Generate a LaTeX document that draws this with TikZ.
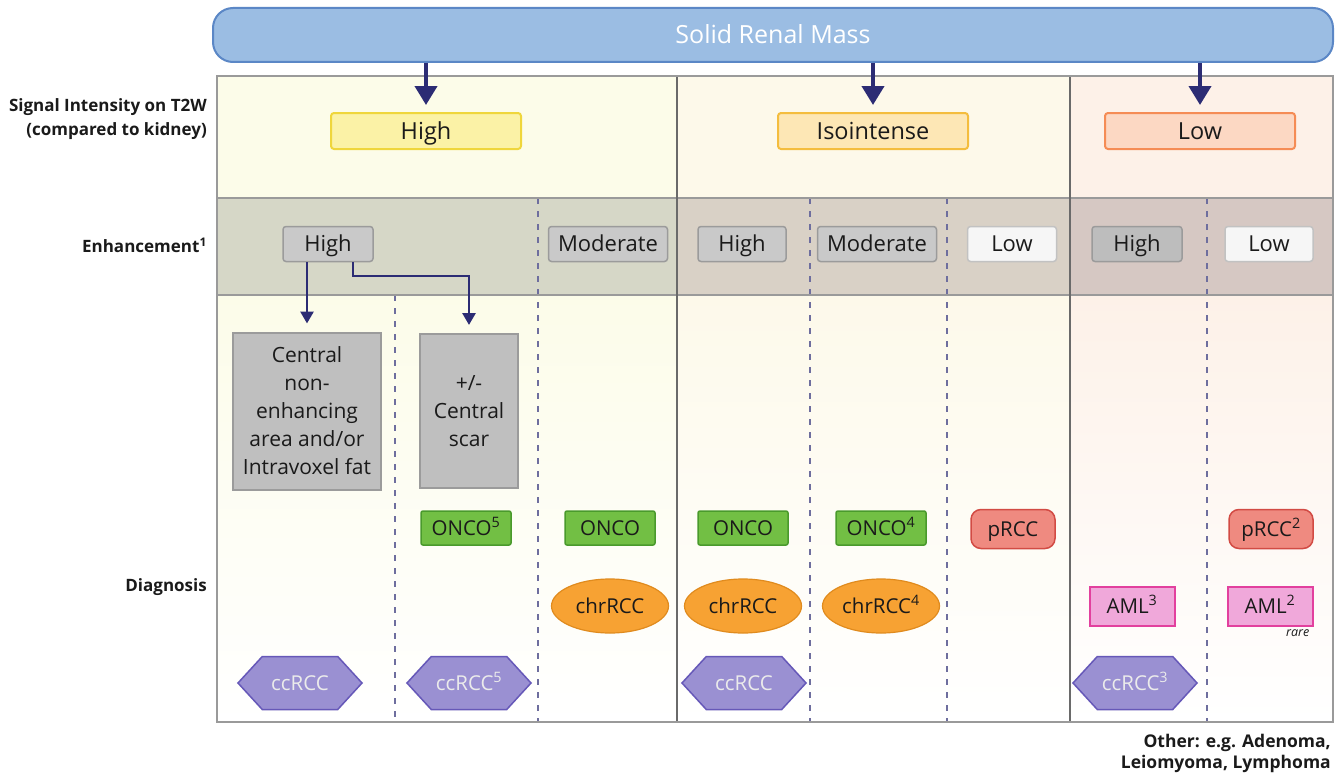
\documentclass[tikz,border=0pt]{standalone}
\usepackage{fontspec}
\setmainfont{Open Sans}
\usetikzlibrary{shapes.geometric,shapes.symbols,arrows.meta,positioning}

\definecolor{navy}{HTML}{2C2C74}
\definecolor{bannerfill}{HTML}{9BBDE3}
\definecolor{bannerdraw}{HTML}{5B87C6}
\definecolor{tablegrey}{HTML}{9A9A9A}
\definecolor{coldark}{HTML}{6A6A6A}
\definecolor{dashblue}{HTML}{6E6E9E}
\definecolor{topA}{HTML}{FCFCE9}
\definecolor{topB}{HTML}{FDF9EA}
\definecolor{topC}{HTML}{FDF1E8}
\definecolor{bandA}{HTML}{D6D7C7}
\definecolor{bandB}{HTML}{D9D1C6}
\definecolor{bandC}{HTML}{D6C8C3}
\definecolor{hiYfill}{HTML}{FBF2A6}
\definecolor{hiYdraw}{HTML}{EFD63C}
\definecolor{isofill}{HTML}{FDE7B5}
\definecolor{isodraw}{HTML}{F4BD3E}
\definecolor{lowfill}{HTML}{FCD8C3}
\definecolor{lowdraw}{HTML}{F58C55}
\definecolor{greyfill}{HTML}{C9C9C9}
\definecolor{greydark}{HTML}{BDBDBD}
\definecolor{greydraw}{HTML}{9B9B9B}
\definecolor{whitefill}{HTML}{F6F6F6}
\definecolor{whitedraw}{HTML}{C2C2C2}
\definecolor{oncofill}{HTML}{72BF44}
\definecolor{oncodraw}{HTML}{4A9A2C}
\definecolor{prccfill}{HTML}{EF8A80}
\definecolor{prccdraw}{HTML}{D24B44}
\definecolor{chrfill}{HTML}{F7A233}
\definecolor{chrdraw}{HTML}{E08B1E}
\definecolor{amlfill}{HTML}{F0A8DA}
\definecolor{amldraw}{HTML}{E2409E}
\definecolor{ccfill}{HTML}{9A90D2}
\definecolor{ccdraw}{HTML}{6658B8}
\definecolor{inktext}{HTML}{1A1A1A}

\tikzset{
  bigarr/.style={draw=navy, line width=4pt, -{Triangle[width=22pt,length=19pt]}, shorten >=7pt},
  smallarr/.style={draw=navy, line width=2.8pt, -{Triangle[width=13pt,length=12pt]}, shorten >=8pt},
  sepline/.style={draw=dashblue, line width=1.3pt, dash pattern=on 6pt off 7pt},
  banner/.style={fill=bannerfill, draw=bannerdraw, line width=2pt, rounded corners=20pt,
    minimum width=1120pt, minimum height=54pt, inner sep=0pt, text=white,
    text height=23.4pt, text depth=5.5pt, font=\fontsize{25}{29}\selectfont},
  t2wbox/.style={line width=2pt, rounded corners=3pt, minimum width=190pt,
    minimum height=36pt, inner sep=0pt, text=inktext,
    text height=21.8pt, text depth=5pt, font=\fontsize{23.5}{27}\selectfont},
  enhbox/.style={fill=greyfill, draw=greydraw, line width=1.5pt, rounded corners=3pt,
    minimum height=35pt, inner sep=0pt, text=inktext,
    text height=20.7pt, text depth=5pt, font=\fontsize{22}{26}\selectfont},
  featbox/.style={fill=greyfill!95!black, draw=greydraw, line width=2pt, align=center,
    inner sep=0pt, text=inktext, font=\fontsize{21}{28}\selectfont},
  diagtext/.style={inner sep=0pt, text=inktext, text height=19.1pt, text depth=4.5pt,
    font=\fontsize{20.5}{24}\selectfont},
  oncobox/.style={diagtext, fill=oncofill, draw=oncodraw, line width=1.5pt, rounded corners=2pt,
    minimum width=90pt, minimum height=34pt},
  prccbox/.style={diagtext, fill=prccfill, draw=prccdraw, line width=1.5pt, rounded corners=10pt,
    minimum width=84pt, minimum height=39pt},
  chrbox/.style={diagtext, ellipse, fill=chrfill, draw=chrdraw, line width=1.2pt,
    minimum width=117pt, minimum height=54pt},
  amlbox/.style={diagtext, fill=amlfill, draw=amldraw, line width=2pt,
    minimum width=85pt, minimum height=39pt},
  ccbox/.style={diagtext, signal, signal to=east and west, signal pointer angle=95,
    fill=ccfill, draw=ccdraw, line width=1.5pt, minimum width=124pt,
    minimum height=53pt, text=white!92!black},
  rowlabel/.style={anchor=east, align=right, inner sep=0pt, text=inktext,
    font=\bfseries\fontsize{17}{24}\selectfont}
}

\begin{document}
\begin{tikzpicture}[x=1pt,y=-1pt]
    \useasboundingbox (0,0) rectangle (1336,776);

    % draw the column backgrounds
    \fill[topA] (217,76) rectangle (677,198);
    \fill[topB] (677,76) rectangle (1070,198);
    \fill[topC] (1070,76) rectangle (1333,198);
    \fill[bandA] (217,198) rectangle (677,295);
    \fill[bandB] (677,198) rectangle (1070,295);
    \fill[bandC] (1070,198) rectangle (1333,295);
    \shade[top color=topA, bottom color=white] (217,295) rectangle (677,722);
    \shade[top color=topB, bottom color=white] (677,295) rectangle (1070,722);
    \shade[top color=topC, bottom color=white] (1070,295) rectangle (1333,722);

    % draw the dashed separators
    \foreach \x in {538,810,947,1207}
        \draw[sepline] (\x,198) -- (\x,722);
    \draw[sepline] (395,295) -- (395,722);

    % draw the table lines
    \draw[tablegrey, line width=1.2pt] (217,198) -- (1333,198);
    \draw[tablegrey, line width=1.2pt] (217,295) -- (1333,295);
    \draw[coldark, line width=1.4pt] (677,76) -- (677,722);
    \draw[coldark, line width=1.4pt] (1070,76) -- (1070,722);
    \draw[tablegrey, line width=1.2pt] (217,76) rectangle (1333,722);

    % draw the banner
    \node[banner] (mass) at (773,35) {Solid Renal Mass};

    % draw the T2W signal boxes
    \node[t2wbox, fill=hiYfill, draw=hiYdraw] (t2wHigh) at (426,131) {High};
    \node[t2wbox, fill=isofill, draw=isodraw] (t2wIso) at (873,131) {Isointense};
    \node[t2wbox, fill=lowfill, draw=lowdraw] (t2wLow) at (1200,131) {Low};

    % draw the enhancement boxes
    \node[enhbox, minimum width=90pt] (enhHighA) at (328,244) {High};
    \node[enhbox, minimum width=119pt] (enhModA) at (608,244) {Moderate};
    \node[enhbox, minimum width=88pt] (enhHighB) at (742,244) {High};
    \node[enhbox, minimum width=119pt] (enhModB) at (877,244) {Moderate};
    \node[enhbox, minimum width=89pt, fill=whitefill, draw=whitedraw] (enhLowB) at (1012,244) {Low};
    \node[enhbox, minimum width=90pt, fill=greydark] (enhHighC) at (1137,244) {High};
    \node[enhbox, minimum width=88pt, fill=whitefill, draw=whitedraw] (enhLowC) at (1269,244) {Low};

    % draw the feature boxes
    \node[featbox, minimum width=148pt, minimum height=157pt] (fatBox) at (307,411)
        {Central\\non-\\enhancing\\area and/or\\Intravoxel fat};
    \node[featbox, minimum width=98pt, minimum height=154pt] (scarBox) at (469,411)
        {+/-\\Central\\scar};

    % draw the diagnosis boxes
    \node[oncobox] (oncoA) at (466,528) {ONCO\textsuperscript{5}};
    \node[oncobox] (oncoB) at (610,528) {ONCO};
    \node[oncobox] (oncoC) at (743,528) {ONCO};
    \node[oncobox] (oncoD) at (881,528) {ONCO\textsuperscript{4}};
    \node[prccbox] (prccA) at (1013,529) {pRCC};
    \node[prccbox] (prccB) at (1271,529) {pRCC\textsuperscript{2}};
    \node[chrbox] (chrA) at (610,606) {chrRCC};
    \node[chrbox] (chrB) at (743,606) {chrRCC};
    \node[chrbox] (chrC) at (881,606) {chrRCC\textsuperscript{4}};
    \node[amlbox] (amlA) at (1132,606) {AML\textsuperscript{3}};
    \node[amlbox] (amlB) at (1270,606) {AML\textsuperscript{2}};
    \node[anchor=north east, inner sep=0pt, text=inktext, font=\itshape\fontsize{12.5}{14}\selectfont]
        (rare) at ([xshift=-4pt,yshift=-3pt]amlB.south east) {rare};
    \node[ccbox] (ccA) at (300,683) {ccRCC};
    \node[ccbox] (ccB) at (469,683) {ccRCC\textsuperscript{5}};
    \node[ccbox] (ccC) at (744,683) {ccRCC};
    \node[ccbox] (ccD) at (1135,683) {ccRCC\textsuperscript{3}};

    % draw the row labels
    \node[rowlabel] (sigLabel) at (207,119) {Signal Intensity on T2W\\(compared to kidney)};
    \node[rowlabel] (enhLabel) at (207,245) {Enhancement\textsuperscript{1}};
    \node[rowlabel] (diagLabel) at (207,587) {Diagnosis};
    \node[rowlabel, anchor=north east, font=\bfseries\fontsize{17.5}{21}\selectfont]
        (otherLabel) at (1331,734) {Other: e.g. Adenoma,\\Leiomyoma, Lymphoma};

    % draw the arrows
    \draw[bigarr] (mass.south -| t2wHigh.north) -- (t2wHigh.north);
    \draw[bigarr] (mass.south -| t2wIso.north) -- (t2wIso.north);
    \draw[bigarr] (mass.south -| t2wLow.north) -- (t2wLow.north);
    \coordinate (bend) at (469,276);
    \draw[smallarr] (enhHighA.south -| fatBox.north) -- (fatBox.north);
    \draw[smallarr, rounded corners=0pt] ([xshift=25pt]enhHighA.south) |- (bend) -- (scarBox.north);
\end{tikzpicture}
\end{document}
